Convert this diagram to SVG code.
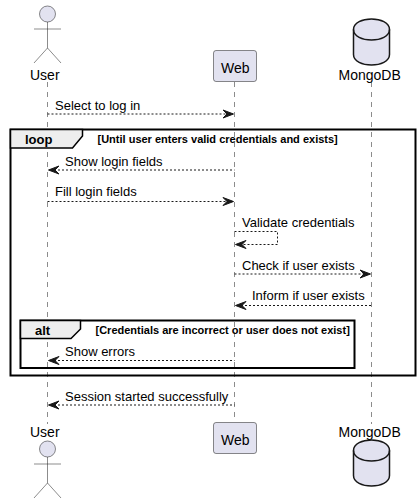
<svg xmlns="http://www.w3.org/2000/svg" width="420" height="504" viewBox="0 0 420 504">
<style>
text{font-family:"Liberation Sans",Arial,sans-serif;fill:#000}
.lbl{font-size:13px}
.nm{font-size:14px}
.fr{font-size:13px;font-weight:bold}
.cond{font-size:11px;font-weight:bold}
.life{stroke:#181818;stroke-width:.5;stroke-dasharray:5 5;fill:none}
.msg{stroke:#181818;stroke-width:1;stroke-dasharray:2 2;fill:none}
.act{fill:#E2E2F0;stroke:#181818;stroke-width:.5}
.actl{fill:none;stroke:#181818;stroke-width:.5}
.box{fill:#E2E2F0;stroke:#181818;stroke-width:.5}
.cyl{fill:#E2E2F0;stroke:#181818;stroke-width:1.5}
.cyl2{fill:none;stroke:#181818;stroke-width:1.5}
.frame{fill:none;stroke:#000;stroke-width:2}
.tab{fill:#EEE;stroke:#000;stroke-width:1.5}
.ah{fill:#181818;stroke:#181818;stroke-width:1}
</style>
<g id="lifelines">
<path class="life" d="M47.5 82V424"/>
<path class="life" d="M234.5 82V418"/>
<path class="life" d="M371.500 82V424"/>
</g>
<g id="frames">
<g id="loop-frame">
<rect class="frame" x="10.500" y="129.500" width="405" height="246"/>
<path class="tab" d="M10.500 129.500H82.500V136L72.500 148H10.500Z"/>
<text class="fr" x="25" y="144">loop</text>
<text class="cond" x="97.500" y="143">[Until user enters valid credentials and exists]</text>
</g>
<g id="alt-frame">
<rect class="frame" x="20.500" y="320.500" width="334" height="47.500"/>
<path class="tab" d="M20.500 320.500H80.500V329L71 338.500H20.500Z"/>
<text class="fr" x="35" y="335">alt</text>
<text class="cond" x="95.500" y="333.500">[Credentials are incorrect or user does not exist]</text>
</g>
</g>
<g id="connectors">
<path class="msg" d="M47.500 114H233"/><path class="ah" d="M223 110L233.500 114L223 118L227 114Z"/>
<path class="msg" d="M50 170H234.500"/><path class="ah" d="M59 166L48.500 170L59 174L55 170Z"/>
<path class="msg" d="M47.500 201.500H233"/><path class="ah" d="M223 197.500L233.500 201.500L223 205.500L227 201.500Z"/>
<path class="msg" d="M234.500 231.500H277.500V244.500H237"/><path class="ah" d="M246 240.500L235.500 244.500L246 248.500L242 244.500Z"/>
<path class="msg" d="M234.500 274H370"/><path class="ah" d="M360 270L370.500 274L360 278L364 274Z"/>
<path class="msg" d="M237 305.500H371.500"/><path class="ah" d="M246 301.500L235.500 305.500L246 309.500L242 305.500Z"/>
<path class="msg" d="M50 360.500H234.500"/><path class="ah" d="M59 356.500L48.500 360.500L59 364.500L55 360.500Z"/>
<path class="msg" d="M50 405H234.500"/><path class="ah" d="M59 401L48.500 405L59 409L55 405Z"/>
</g>
<g id="messages">
<text class="lbl" x="55" y="110">Select to log in</text>
<text class="lbl" x="65" y="166">Show login fields</text>
<text class="lbl" x="55" y="196">Fill login fields</text>
<text class="lbl" x="242" y="227">Validate credentials</text>
<text class="lbl" x="242" y="270">Check if user exists</text>
<text class="lbl" x="252" y="300">Inform if user exists</text>
<text class="lbl" x="65" y="356">Show errors</text>
<text class="lbl" x="65" y="401">Session started successfully</text>
</g>
<g id="user-top">
<circle class="act" cx="47.500" cy="14" r="8"/>
<path class="actl" d="M47.500 22V48M34 29H61M47.500 48L34 63M47.500 48L61 63"/>
<text class="nm" x="30" y="79.500">User</text>
</g>
<g id="web-top">
<rect class="box" x="213.500" y="50.500" width="43" height="31" rx="2.500"/>
<text class="nm" x="221" y="72.500">Web</text>
</g>
<g id="mongodb-top">
<path class="cyl" d="M353.500 29.500C353.500 15.500 389.500 15.500 389.500 29.500V54.500C389.500 68.500 353.500 68.500 353.500 54.500Z"/>
<path class="cyl2" d="M353.500 29.500C353.500 43.500 389.500 43.500 389.500 29.500"/>
<text class="nm" x="338.500" y="79.500">MongoDB</text>
</g>
<g id="user-bottom">
<text class="nm" x="30" y="436.500">User</text>
<circle class="act" cx="47.500" cy="449" r="8"/>
<path class="actl" d="M47.500 457V483M34 464H61M47.500 483L34 498M47.500 483L61 498"/>
</g>
<g id="web-bottom">
<rect class="box" x="213.500" y="422.500" width="43" height="31" rx="2.500"/>
<text class="nm" x="221" y="444.500">Web</text>
</g>
<g id="mongodb-bottom">
<text class="nm" x="338.500" y="436.500">MongoDB</text>
<path class="cyl" d="M353.500 450.500C353.500 436.500 389.500 436.500 389.500 450.500V475.500C389.500 489.500 353.500 489.500 353.500 475.500Z"/>
<path class="cyl2" d="M353.500 450.500C353.500 464.500 389.500 464.500 389.500 450.500"/>
</g>
</svg>
